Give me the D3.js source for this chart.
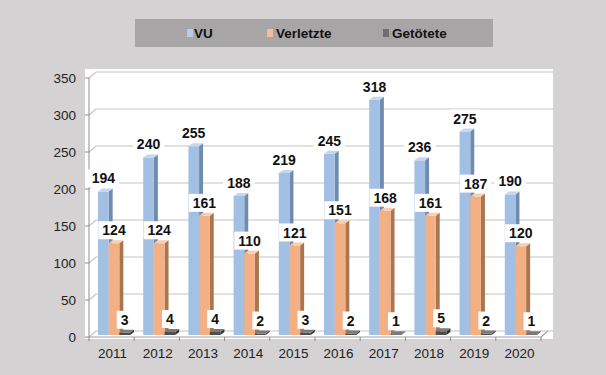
<!DOCTYPE html>
<html lang="de">
<head>
<meta charset="utf-8">
<title>VU / Verletzte / Getötete 2011-2020</title>
<script src="https://d3js.org/d3.v7.min.js"></script>
<style type="text/css">
  body { margin: 0; background: #d4d2d2; }
  #chart text { font-family: "Liberation Sans", Arial, sans-serif; }
</style>
</head>
<body>
<div id="chart"></div>
<script>
  const years = ["2011", "2012", "2013", "2014", "2015", "2016", "2017", "2018", "2019", "2020"]
  const vu = [194, 240, 255, 188, 219, 245, 318, 236, 275, 190]
  const verletzte = [124, 124, 161, 110, 121, 151, 168, 161, 187, 120]
  const getoetete = [3, 4, 4, 2, 3, 2, 1, 5, 2, 1]
  const seriesNames = ["VU", "Verletzte", "Getötete"]
  const yTicks = [0, 50, 100, 150, 200, 250, 300, 350]

  const seriesValues = [vu, verletzte, getoetete]
  // front / side / top colours per series
  const colors = [
    { front: "#a2c0e4", side: "#6f8bad", top: "#c4d7ef", legend: "#b9cde6" },
    { front: "#f4b085", side: "#a9764f", top: "#f9cdb0", legend: "#f6bb95" },
    { front: "#4d4d4d", side: "#333333", top: "#7a7a7a", legend: "#6e6e6e" }
  ]

  const W = 606, H = 375
  const svg = d3.select("#chart").append("svg")
    .attr("width", W).attr("height", H)

  svg.append("rect").attr("width", W).attr("height", H).attr("fill", "#d4d2d2")

  // legend
  const legend = svg.append("g")
  legend.append("rect")
    .attr("x", 135).attr("y", 19).attr("width", 358).attr("height", 28)
    .attr("fill", "#a7a5a5")
  const legendX = [187, 267, 383]
  seriesNames.forEach((name, i) => {
    legend.append("rect")
      .attr("x", legendX[i]).attr("y", 29).attr("width", 6).attr("height", 8)
      .attr("fill", colors[i].legend)
    legend.append("text")
      .attr("x", legendX[i] + (i == 0 ? 7 : 9)).attr("y", 38)
      .attr("font-size", "13.5px").attr("font-weight", "bold").attr("fill", "#111")
      .text(name)
  })

  // plot area
  const x = d3.scaleBand().domain(years).range([89, 541])
  const xs = d3.scaleBand().domain(seriesNames).range([9, 41])
  const y = d3.scaleLinear().domain([0, 350]).range([337, 78])
  const wallDx = 7, wallDy = -6
  const barDx = 4, barDy = -3, barShift = -2

  svg.append("rect")
    .attr("x", 85).attr("y", 69).attr("width", 468).attr("height", 270)
    .attr("fill", "#ffffff")

  // back wall gridlines with a little diagonal to the axis
  const grid = svg.append("g").attr("fill", "none").attr("stroke", "#c4c4c4").attr("stroke-width", 1.2)
  yTicks.forEach(t => {
    grid.append("path")
      .attr("d", `M${x.range()[0]},${y(t)}L${x.range()[0] + wallDx},${y(t) + wallDy}L553,${y(t) + wallDy}`)
  })
  // floor front edge
  grid.append("path")
    .attr("d", `M${x.range()[0]},${y(0)}L${x.range()[1]},${y(0)}L${x.range()[1] + wallDx},${y(0) + wallDy}`)
    .attr("stroke", "#a0a0a0")

  // y axis
  const yAxis = svg.append("g")
  yAxis.append("line")
    .attr("x1", 89).attr("x2", 89).attr("y1", y(350)).attr("y2", y(0))
    .attr("stroke", "#8c8c8c")
  yTicks.forEach(t => {
    yAxis.append("line")
      .attr("x1", 85).attr("x2", 89).attr("y1", y(t)).attr("y2", y(t))
      .attr("stroke", "#8c8c8c")
    yAxis.append("text")
      .attr("x", 76).attr("y", y(t)).attr("dy", "0.36em")
      .attr("text-anchor", "end").attr("font-size", "13.5px").attr("fill", "#222")
      .text(t)
  })

  // x axis
  const xAxis = svg.append("g")
  years.forEach((yr, i) => {
    xAxis.append("line")
      .attr("x1", x(yr)).attr("x2", x(yr)).attr("y1", y(0)).attr("y2", y(0) + 4)
      .attr("stroke", "#8c8c8c")
    xAxis.append("text")
      .attr("x", x(yr) + x.bandwidth() / 2 + 1).attr("y", 353).attr("dy", "0.36em")
      .attr("text-anchor", "middle").attr("font-size", "13.5px").attr("fill", "#222")
      .text(yr)
  })
  xAxis.append("line")
    .attr("x1", x.range()[1]).attr("x2", x.range()[1]).attr("y1", y(0)).attr("y2", y(0) + 4)
    .attr("stroke", "#8c8c8c")

  // 3D bars
  const bars = svg.append("g")
  years.forEach((yr, i) => {
    seriesNames.forEach((s, k) => {
      const v = seriesValues[k][i]
      const bx = x(yr) + xs(s)
      const bw = xs.bandwidth()
      const top = y(v) + barShift
      const bot = y(0) + barShift
      const c = colors[k]
      bars.append("path")
        .attr("d", `M${bx + bw},${top}L${bx + bw + barDx},${top + barDy}L${bx + bw + barDx},${bot + barDy}L${bx + bw},${bot}Z`)
        .attr("fill", c.side)
      bars.append("rect")
        .attr("x", bx).attr("y", top).attr("width", bw).attr("height", bot - top)
        .attr("fill", c.front)
      bars.append("path")
        .attr("d", `M${bx},${top}L${bx + barDx},${top + barDy}L${bx + bw + barDx},${top + barDy}L${bx + bw},${top}Z`)
        .attr("fill", c.top)
    })
  })

  // data labels on white boxes
  const labels = svg.append("g")
  years.forEach((yr, i) => {
    seriesNames.forEach((s, k) => {
      const v = seriesValues[k][i]
      const cx = x(yr) + xs(s) + xs.bandwidth() / 2
      const cy = y(v) + barShift - 13
      const g = labels.append("g")
      const box = g.append("rect").attr("fill", "#ffffff")
      const t = g.append("text")
        .attr("x", cx).attr("y", cy).attr("dy", "0.36em")
        .attr("text-anchor", "middle").attr("font-size", "14px").attr("font-weight", "bold")
        .attr("fill", "#111")
        .text(v)
      const tw = t.node().getComputedTextLength()
      box.attr("x", cx - tw / 2 - 4).attr("y", cy - 9).attr("width", tw + 8).attr("height", 18)
    })
  })
</script>
</body>
</html>
